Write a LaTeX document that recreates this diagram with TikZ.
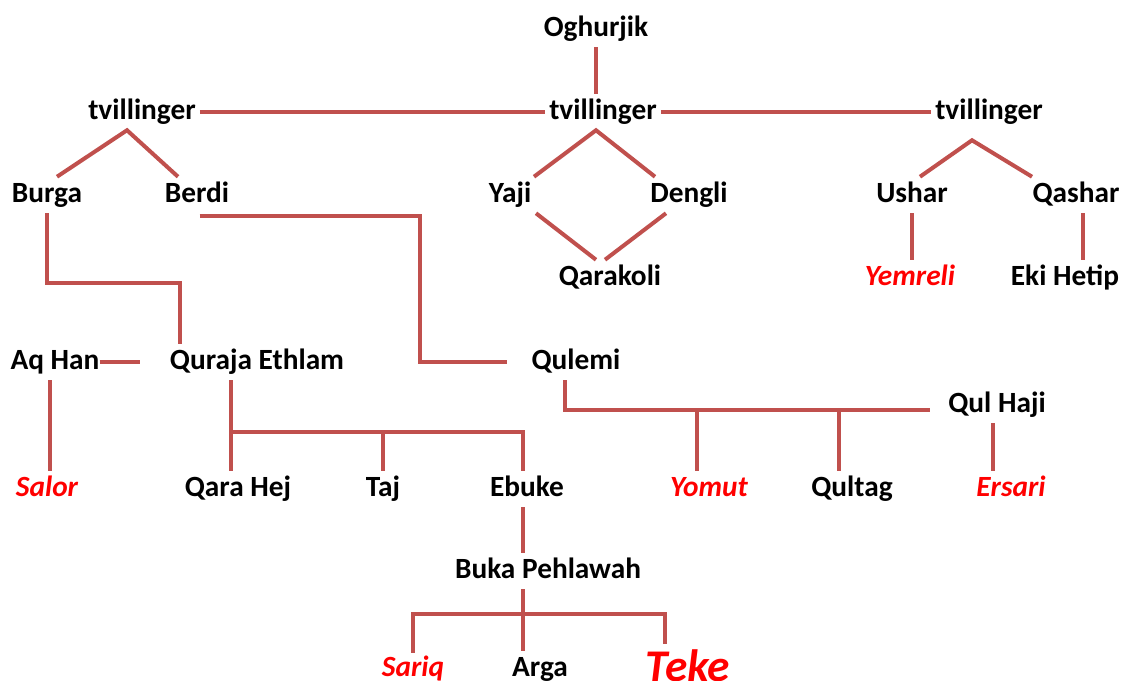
\documentclass[tikz,border=0pt]{standalone}
\usepackage{fontspec}
\setmainfont{Carlito}
\usetikzlibrary{calc}
\definecolor{linjerod}{RGB}{192,80,77}

\begin{document}
\begin{tikzpicture}[x=0.75pt, y=-0.75pt,
      nm/.style={font=\bfseries\fontsize{22}{26}\selectfont,
          inner sep=3pt, text height=16pt, text depth=5pt},
      stamme/.style={nm, text=red, font=\bfseries\itshape\fontsize{22}{26}\selectfont},
      lin/.style={draw=linjerod, line width=3pt}]
    \useasboundingbox (0,0) rectangle (1139,681);

    % generations, top to bottom
    \node[nm] (og) at (596,29) {Oghurjik};
    \node[nm] (tl) at (142,112) {tvillinger};
    \node[nm] (tm) at (603,112) {tvillinger};
    \node[nm] (tr) at (989,112) {tvillinger};

    \node[nm] (bu) at (47,195) {Burga};
    \node[nm] (be) at (197,195) {Berdi};
    \node[nm] (ya) at (510,195) {Yaji};
    \node[nm] (de) at (689,195) {Dengli};
    \node[nm] (us) at (912,195) {Ushar};
    \node[nm] (qs) at (1076,195) {Qashar};

    \node[nm] (qk) at (610,278) {Qarakoli};
    \node[stamme] (ye) at (910,278) {Yemreli};
    \node[nm] (ek) at (1065,278) {Eki Hetip};

    \node[nm] (ah) at (55,362) {Aq Han};
    \node[nm] (qe) at (257,362) {Quraja Ethlam};
    \node[nm] (ql) at (576,362) {Qulemi};
    \node[nm] (qj) at (997,405) {Qul Haji};

    \node[stamme] (sa) at (47,489) {Salor};
    \node[nm] (qh) at (238,489) {Qara Hej};
    \node[nm] (ta) at (383,489) {Taj};
    \node[nm] (eb) at (527,489) {Ebuke};
    \node[stamme] (yo) at (709,489) {Yomut};
    \node[nm] (qt) at (852,489) {Qultag};
    \node[stamme] (er) at (1011,489) {Ersari};

    \node[nm] (bp) at (548,571) {Buka Pehlawah};

    \node[stamme] (sq) at (413,669) {Sariq};
    \node[nm] (ar) at (540,669) {Arga};
    \node[stamme, anchor=base, font=\bfseries\itshape\fontsize{34}{38}\selectfont] (te) at (688,681) {Teke};

    % bends
    \coordinate (k1) at (180,283);
    \coordinate (k2) at (420,216);
    \coordinate (k3) at (231,432);
    \coordinate (k4) at (565,410);
    \coordinate (k5) at (523,614);

    % lines
    \draw[lin] (og.south) -- (og.south |- tm.north);
    \draw[lin] (tl.east) -- (tm.west);
    \draw[lin] (tm.east) -- (tr.west);

    \draw[lin] ($(bu.north)+(10,0)$) -- ($(tl.south)+(-15,0)$) -- ($(be.north)+(-19,0)$);
    \draw[lin] ($(ya.north)+(24,0)$) -- ($(tm.south)+(-7,0)$) -- ($(de.north)+(-34,0)$);
    \draw[lin] ($(ya.south)+(26,0)$) -- ($(qk.north)+(-14,0)$);
    \draw[lin] ($(de.south)+(-23,0)$) -- ($(qk.north)+(-5,0)$);
    \draw[lin] ($(us.north)+(8,0)$) -- ($(tr.south)+(-17,10)$) -- ($(qs.north)+(-44,0)$);
    \draw[lin] (us.south) -- (us.south |- ye.north);
    \draw[lin] ($(qs.south)+(7,0)$) -- ($(ek.north)+(18,0)$);

    \draw[lin] (bu.south) |- (k1) -- (k1 |- qe.north);
    \draw[lin] ([xshift=2pt]be.south |- k2) -- (k2) |- ($(ql.west)+(-20,0)$);
    \draw[lin] ($(ah.east)+(-4,0)$) -- ($(qe.west)+(-26,0)$);
    \draw[lin] ($(ah.south)+(-5,0)$) -- ($(sa.north)+(3,0)$);

    \draw[lin] ($(qe.south)+(-26,0)$) -- ($(qh.north)+(-7,0)$);
    \draw[lin] (k3) -| ($(eb.north)+(-4,0)$);
    \draw[lin] (ta.north |- k3) -- (ta.north);

    \draw[lin] ($(ql.south)+(-11,0)$) -- (k4) -- ($(k4 -| qj.west)+(-14,0)$);
    \draw[lin] ([xshift=-9pt]yo.north |- k4) -- ([xshift=-9pt]yo.north);
    \draw[lin] ([xshift=-10pt]qt.north |- k4) -- ([xshift=-10pt]qt.north);
    \draw[lin] ([xshift=-3pt]qj.south) -- ([xshift=-3pt]qj.south |- er.north);

    \draw[lin] ([xshift=-3pt]eb.south) -- ([xshift=-3pt]eb.south |- bp.north);
    \draw[lin] ([xshift=-18.75pt]bp.south) -- ([xshift=-18.75pt]bp.south |- ar.north);
    \draw[lin] ($(sq.north)+(0,2)$) |- (k5) -| ($(te.north)+(-23,-11)$);
\end{tikzpicture}
\end{document}
